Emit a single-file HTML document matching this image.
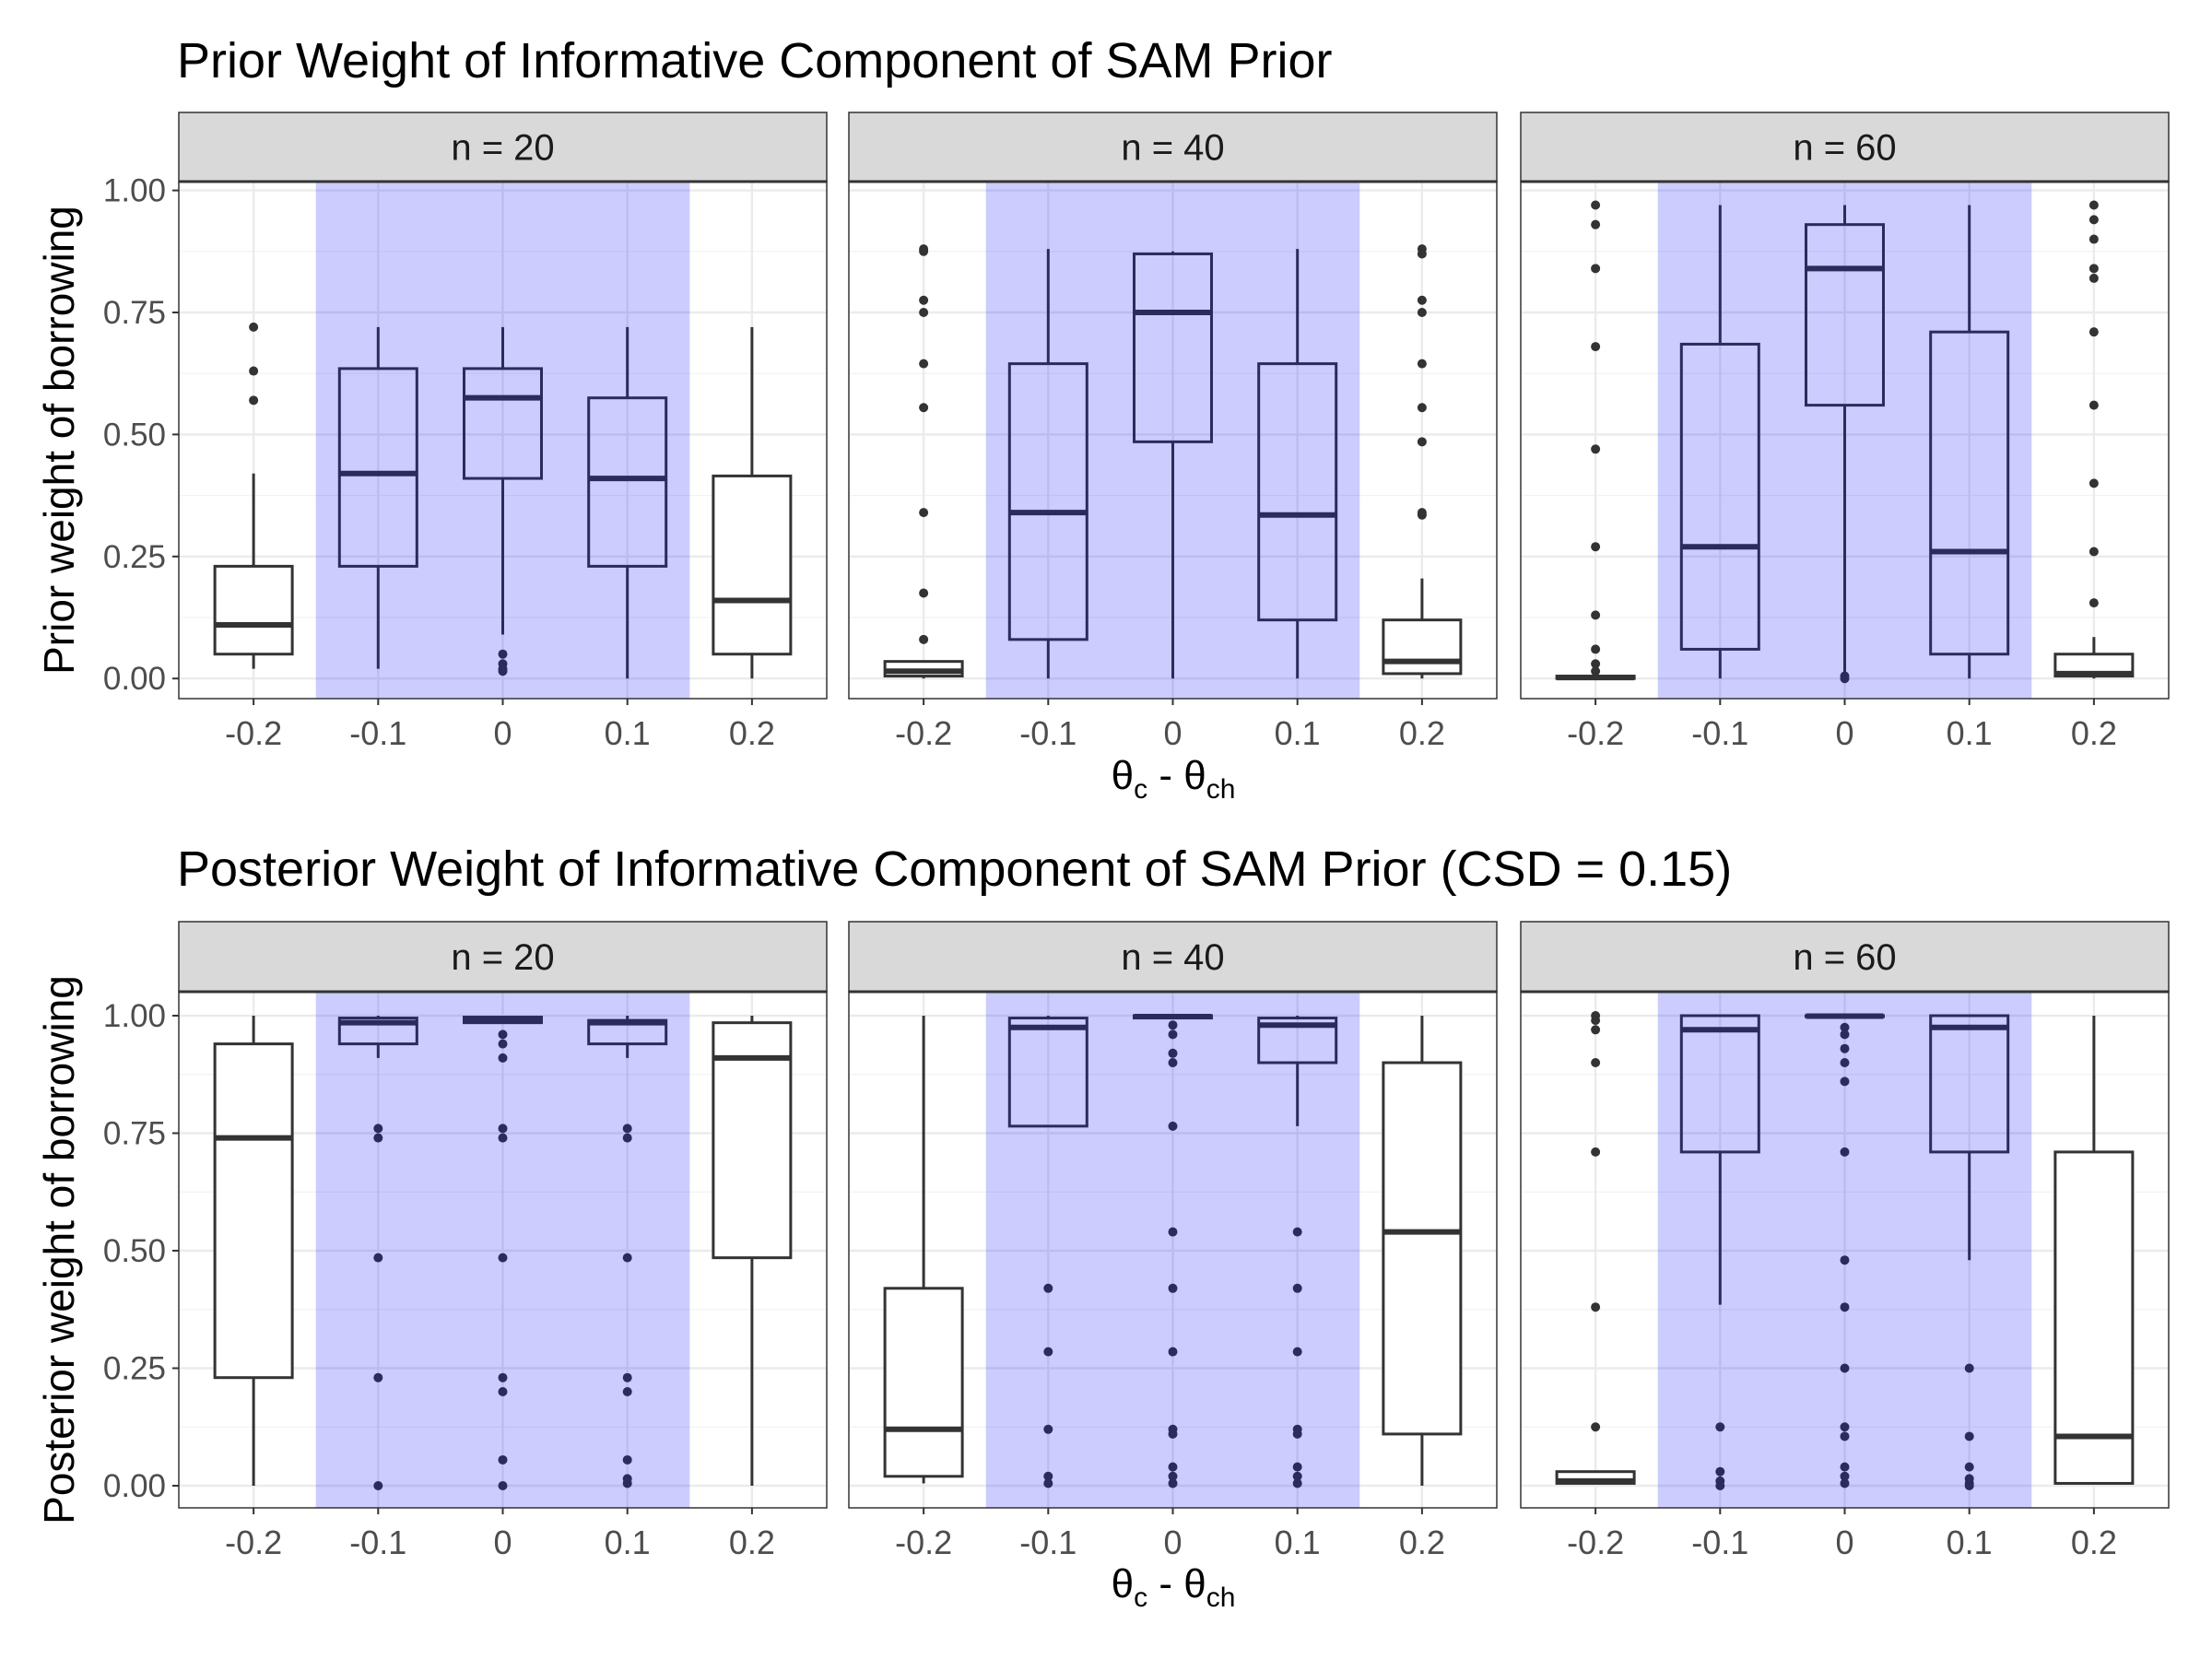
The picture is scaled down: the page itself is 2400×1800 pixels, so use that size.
<!DOCTYPE html>
<html><head><meta charset="utf-8"><style>
html,body{margin:0;padding:0;background:#fff}
svg{display:block;font-family:"Liberation Sans",sans-serif}
</style></head><body>
<svg id="chart" width="2400" height="1800" viewBox="0 0 2400 1800" xmlns="http://www.w3.org/2000/svg"></svg>
<script>
const categories = ["-0.2","-0.1","0","0.1","0.2"];
const facetLabels = ["n = 20","n = 40","n = 60"];
const shaded = [false,true,true,true,false];
const yTicks = [0,0.25,0.5,0.75,1];
const yTickLabels = ["0.00","0.25","0.50","0.75","1.00"];

// Prior weights [facet][category]
const priorLow = [[0.02,0.02,0.09,0,0],[0,0,0,0,0],[0,0,0,0,0]];
const priorQ1 = [[0.05,0.23,0.41,0.23,0.05],[0.005,0.08,0.485,0.12,0.01],[0,0.06,0.56,0.05,0.005]];
const priorMed = [[0.11,0.42,0.575,0.41,0.16],[0.015,0.34,0.75,0.335,0.035],[0.002,0.27,0.84,0.26,0.01]];
const priorQ3 = [[0.23,0.635,0.635,0.575,0.415],[0.035,0.645,0.87,0.645,0.12],[0.005,0.685,0.93,0.71,0.05]];
const priorHigh = [[0.42,0.72,0.72,0.72,0.72],[0.035,0.88,0.875,0.88,0.205],[0.005,0.97,0.97,0.97,0.085]];
const priorOut = [
 [[0.57,0.63,0.72],[],[0.05,0.03,0.02,0.015],[],[]],
 [[0.08,0.175,0.34,0.555,0.645,0.75,0.775,0.875,0.88],[],[],[],[0.335,0.34,0.485,0.555,0.645,0.75,0.775,0.87,0.88]],
 [[0.015,0.03,0.06,0.13,0.27,0.47,0.68,0.84,0.93,0.97],[],[0.005,0],[],[0.155,0.26,0.40,0.56,0.71,0.82,0.84,0.90,0.94,0.97]]
];

// Posterior weights [facet][category]
const postLow = [[0,0.91,0.985,0.91,0],[0.005,0.765,0.995,0.765,0],[0.005,0.385,0.998,0.48,0.005]];
const postQ1 = [[0.23,0.94,0.985,0.94,0.485],[0.02,0.765,0.995,0.90,0.11],[0.005,0.71,0.998,0.71,0.005]];
const postMed = [[0.74,0.985,0.99,0.985,0.91],[0.12,0.975,0.998,0.98,0.54],[0.01,0.97,0.999,0.975,0.105]];
const postQ3 = [[0.94,0.995,0.997,0.99,0.985],[0.42,0.995,1.0,0.995,0.90],[0.03,1.0,1.0,1.0,0.71]];
const postHigh = [[1.0,1.0,1.0,1.0,1.0],[1.0,1.0,1.0,1.0,1.0],[0.03,1.0,1.0,1.0,1.0]];
const postOut = [
 [[],[0.76,0.74,0.485,0.23,0.0],[0.96,0.94,0.91,0.76,0.74,0.485,0.23,0.20,0.055,0.0],[0.76,0.74,0.485,0.23,0.20,0.055,0.015,0.005],[]],
 [[],[0.42,0.285,0.12,0.02,0.005],[0.98,0.96,0.92,0.90,0.765,0.54,0.42,0.285,0.12,0.11,0.04,0.02,0.005],[0.54,0.42,0.285,0.12,0.11,0.04,0.02,0.005],[]],
 [[1.0,0.99,0.97,0.90,0.71,0.38,0.125],[0.125,0.03,0.01,0.0],[0.975,0.96,0.93,0.90,0.86,0.71,0.48,0.38,0.25,0.125,0.105,0.04,0.02,0.005],[0.25,0.105,0.04,0.015,0.005,0.0],[]]
];

const NS="http://www.w3.org/2000/svg";
const svg=document.getElementById('chart');
function mk(tag,attrs,parent){const e=document.createElementNS(NS,tag);for(const k in attrs)e.setAttribute(k,attrs[k]);(parent||svg).appendChild(e);return e;}

const panelX=[194,921,1650], panelW=703;
function xScale(p,i){const u=panelW/5.2;return panelX[p]+(0.6+i)*u;}

function drawRow(cfg){
  const yS=v=>cfg.y0+(cfg.y1-cfg.y0)*v;
  const t=mk('text',{x:192,y:cfg.titleY,'font-size':54,fill:'#000'});
  
  
  t.textContent=cfg.title;
  const yt=mk('text',{x:0,y:0,'font-size':46,fill:'#000','text-anchor':'middle',transform:`translate(80,${(cfg.top+cfg.bottom)/2}) rotate(-90)`});
  
  
  yt.textContent=cfg.ytitle;
  for(let p=0;p<3;p++){
    const g=mk('g',{});
    
    
    const x0=panelX[p];
    const st=mk('rect',{x:x0,y:cfg.stripTop,width:panelW,height:cfg.top-cfg.stripTop,fill:'#d9d9d9',stroke:'#333','stroke-width':1.5},g);
    
    
    const sl=mk('text',{x:x0+panelW/2,y:(cfg.stripTop+cfg.top)/2+14,'font-size':40,fill:'#1a1a1a','text-anchor':'middle'},g);
    
    
    sl.textContent=facetLabels[p];
    mk('rect',{x:x0,y:cfg.top,width:panelW,height:cfg.bottom-cfg.top,fill:'#fff'},g);
    for(let k=0;k<yTicks.length-1;k++){const v=(yTicks[k]+yTicks[k+1])/2;mk('line',{x1:x0,x2:x0+panelW,y1:yS(v),y2:yS(v),stroke:'#f2f2f2','stroke-width':1.2},g);}
    yTicks.forEach(v=>mk('line',{x1:x0,x2:x0+panelW,y1:yS(v),y2:yS(v),stroke:'#ebebeb','stroke-width':2.4},g));
    categories.forEach((c,i)=>mk('line',{x1:xScale(p,i),x2:xScale(p,i),y1:cfg.top,y2:cfg.bottom,stroke:'#ebebeb','stroke-width':2.4},g));
    const sh=mk('rect',{x:xScale(p,0.5),y:cfg.top,width:xScale(p,3.5)-xScale(p,0.5),height:cfg.bottom-cfg.top,fill:'rgba(0,0,255,0.2)'},g);
    
    
    categories.forEach((c,i)=>{
      const col=shaded[i]?'#2b2b5e':'#333333';
      const bx=mk('g',{},g);
      
      
      const cx=xScale(p,i),hw=42;
      mk('line',{x1:cx,x2:cx,y1:yS(cfg.low[p][i]),y2:yS(cfg.q1[p][i]),stroke:col,'stroke-width':3},bx);
      mk('line',{x1:cx,x2:cx,y1:yS(cfg.q3[p][i]),y2:yS(cfg.high[p][i]),stroke:col,'stroke-width':3},bx);
      mk('rect',{x:cx-hw,y:yS(cfg.q3[p][i]),width:2*hw,height:Math.max(0.5,yS(cfg.q1[p][i])-yS(cfg.q3[p][i])),fill:shaded[i]?'none':'#fff',stroke:col,'stroke-width':3},bx);
      mk('line',{x1:cx-hw,x2:cx+hw,y1:yS(cfg.med[p][i]),y2:yS(cfg.med[p][i]),stroke:col,'stroke-width':6},bx);
      cfg.out[p][i].forEach(v=>{const o=mk('circle',{cx:cx,cy:yS(v),r:5,fill:col},bx);
        
        });
    });
    mk('rect',{x:x0,y:cfg.top,width:panelW,height:cfg.bottom-cfg.top,fill:'none',stroke:'#333','stroke-width':1.5},g);
    mk('line',{x1:x0,x2:x0+panelW,y1:cfg.top,y2:cfg.top,stroke:'#333','stroke-width':3},g);
    categories.forEach((c,i)=>{
      mk('line',{x1:xScale(p,i),x2:xScale(p,i),y1:cfg.bottom,y2:cfg.bottom+7,stroke:'#333','stroke-width':2},g);
      const tl=mk('text',{x:xScale(p,i),y:cfg.bottom+50,'font-size':36,fill:'#4d4d4d','text-anchor':'middle'},g);
      
      
      tl.textContent=c;
    });
    if(p===0){
      yTicks.forEach((v,k)=>{
        mk('line',{x1:x0-7,x2:x0,y1:yS(v),y2:yS(v),stroke:'#333','stroke-width':2},g);
        const tl=mk('text',{x:x0-14,y:yS(v)+12,'font-size':35,fill:'#4d4d4d','text-anchor':'end'},g);
        
        
        tl.textContent=yTickLabels[k];
      });
    }
  }
  const xt=mk('text',{x:1273,y:cfg.xtitleY,'font-size':44,fill:'#000','text-anchor':'middle'});
  
  
  xt.innerHTML='θ<tspan font-size="30" dy="10">c</tspan><tspan dy="-10"> - θ</tspan><tspan font-size="30" dy="10">ch</tspan>';
}
drawRow({name:'prior',title:'Prior Weight of Informative Component of SAM Prior',ytitle:'Prior weight of borrowing',
  titleY:84,stripTop:122,top:197,bottom:758,y0:736.2,y1:206.6,xtitleY:856,
  low:priorLow,q1:priorQ1,med:priorMed,q3:priorQ3,high:priorHigh,out:priorOut});
drawRow({name:'posterior',title:'Posterior Weight of Informative Component of SAM Prior (CSD = 0.15)',ytitle:'Posterior weight of borrowing',
  titleY:961,stripTop:1000,top:1076,bottom:1636,y0:1612,y1:1102,xtitleY:1733,
  low:postLow,q1:postQ1,med:postMed,q3:postQ3,high:postHigh,out:postOut});
</script>
</body></html>
